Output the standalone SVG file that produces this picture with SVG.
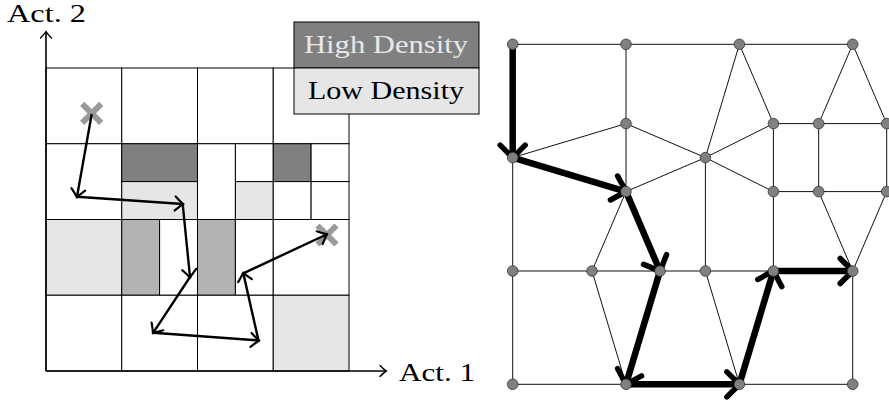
<svg xmlns="http://www.w3.org/2000/svg" width="889" height="405" viewBox="0 0 889 405">
<style>
.c{stroke:#000;stroke-width:1}
.w{fill:#fff}.d{fill:#808080}.l{fill:#e6e6e6}.m{fill:#b3b3b3}
.t{font-family:"Liberation Serif","Times New Roman",serif;font-size:26px}
.e{fill:none;stroke:#111;stroke-width:1}
.th{fill:none;stroke:#000;stroke-width:6.5;marker-end:url(#big)}
.pa{fill:none;stroke:#000;stroke-width:2.4;marker-end:url(#small)}
.ax{fill:none;stroke:#000;stroke-width:1.6;marker-end:url(#axm)}
.n{fill:#808080;stroke:#333;stroke-width:0.8}
.x{stroke:#9a9a9a;stroke-width:6}
</style>
<defs>
<marker id="big" markerUnits="userSpaceOnUse" orient="auto" overflow="visible" markerWidth="1" markerHeight="1" refX="0" refY="0">
<path d="M -12.5 -12.5 Q -2.5 -2.2 1.5 0 Q -2.5 2.2 -12.5 12.5" fill="none" stroke="#000" stroke-width="5.5" stroke-linecap="round" stroke-linejoin="round"/>
</marker>
<marker id="small" markerUnits="userSpaceOnUse" orient="auto" overflow="visible" markerWidth="1" markerHeight="1" refX="0" refY="0">
<path d="M -7.5 -7 Q -1.5 -1.3 0.8 0 Q -1.5 1.3 -7.5 7" fill="none" stroke="#000" stroke-width="2.2" stroke-linecap="round" stroke-linejoin="round"/>
</marker>
<marker id="axm" markerUnits="userSpaceOnUse" orient="auto" overflow="visible" markerWidth="1" markerHeight="1" refX="0" refY="0">
<path d="M -6 -5.5 Q -1.5 -1 0.5 0 Q -1.5 1 -6 5.5" fill="none" stroke="#000" stroke-width="1.4" stroke-linecap="round" stroke-linejoin="round"/>
</marker>
</defs>

<g id="grid">
<rect class="c w" x="46" y="68" width="75.75" height="75.75"/>
<rect class="c w" x="121.75" y="68" width="75.75" height="75.75"/>
<rect class="c w" x="197.5" y="68" width="75.75" height="75.75"/>
<rect class="c w" x="273.25" y="68" width="75.75" height="75.75"/>

<rect class="c w" x="46" y="143.75" width="75.75" height="75.75"/>
<rect class="c d" x="121.75" y="143.75" width="75.75" height="37.85"/>
<rect class="c l" x="121.75" y="181.6" width="75.75" height="37.9"/>
<rect class="c w" x="197.5" y="143.75" width="37.9" height="75.75"/>
<rect class="c w" x="235.4" y="143.75" width="37.85" height="37.85"/>
<rect class="c l" x="235.4" y="181.6" width="37.85" height="37.9"/>
<rect class="c d" x="273.25" y="143.75" width="37.85" height="37.85"/>
<rect class="c w" x="311.1" y="143.75" width="37.9" height="37.85"/>
<rect class="c w" x="273.25" y="181.6" width="37.85" height="37.9"/>
<rect class="c w" x="311.1" y="181.6" width="37.9" height="37.9"/>

<rect class="c l" x="46" y="219.5" width="75.75" height="75.75"/>
<rect class="c m" x="121.75" y="219.5" width="37.85" height="75.75"/>
<rect class="c w" x="159.6" y="219.5" width="37.9" height="75.75"/>
<rect class="c m" x="197.5" y="219.5" width="37.9" height="75.75"/>
<rect class="c w" x="235.4" y="219.5" width="37.85" height="75.75"/>
<rect class="c w" x="273.25" y="219.5" width="75.75" height="75.75"/>

<rect class="c w" x="46" y="295.25" width="75.75" height="75.75"/>
<rect class="c w" x="121.75" y="295.25" width="75.75" height="75.75"/>
<rect class="c w" x="197.5" y="295.25" width="75.75" height="75.75"/>
<rect class="c l" x="273.25" y="295.25" width="75.75" height="75.75"/>
</g>

<g id="axes">
<path class="ax" d="M46 371 V32"/>
<path class="ax" d="M46 371 H386"/>
<text class="t" x="7" y="22" textLength="79" lengthAdjust="spacingAndGlyphs">Act. 2</text>
<text class="t" x="399" y="381" textLength="76" lengthAdjust="spacingAndGlyphs">Act. 1</text>
</g>

<g id="legend">
<rect class="c d" x="294" y="22" width="185" height="46"/>
<rect class="c l" x="294" y="68" width="185" height="46"/>
<text class="t" x="304" y="52.7" fill="#e8e8e8" textLength="164" lengthAdjust="spacingAndGlyphs">High Density</text>
<text class="t" x="308" y="99" fill="#000" textLength="156" lengthAdjust="spacingAndGlyphs">Low Density</text>
</g>

<g id="marks">
<path class="x" d="M82.2 103.8 L101.2 122.8 M101.2 103.8 L82.2 122.8"/>
<path class="x" d="M317.5 225.5 L336.5 244.5 M336.5 225.5 L317.5 244.5"/>
</g>

<g id="trajectory">
<path class="pa" d="M91.7 114 L77 196.7"/>
<path class="pa" d="M77 196.7 L182.7 204"/>
<path class="pa" d="M182.7 204 L190 277"/>
<path class="pa" d="M190 277 L153.3 332.7"/>
<path class="pa" d="M153.3 332.7 L258.5 340.5"/>
<path class="pa" d="M258.5 340.5 L243.3 273.3"/>
<path class="pa" d="M243.3 273.3 L326.5 234.5"/>
</g>

<g id="edges">
<path class="e" d="M512.7 44.3 H852.7"/>
<path class="e" d="M626 44.3 V191.6"/>
<path class="e" d="M512.7 157.6 L626 123.6"/>
<path class="e" d="M626 123.6 L705.4 157.6 L626 191.6"/>
<path class="e" d="M705.4 157.6 L739.4 44.3 L773.4 123.6"/>
<path class="e" d="M705.4 157.6 L773.4 123.6"/>
<path class="e" d="M705.4 157.6 L773.4 191.6"/>
<path class="e" d="M773.4 123.6 H886.7"/>
<path class="e" d="M773.4 191.6 H886.7"/>
<path class="e" d="M773.4 123.6 V191.6 M818.7 123.6 V191.6 M886.7 123.6 V191.6"/>
<path class="e" d="M818.7 123.6 L852.7 44.3 L886.7 123.6"/>
<path class="e" d="M818.7 191.6 L852.7 271 L886.7 191.6"/>
<path class="e" d="M512.7 157.6 V384.3"/>
<path class="e" d="M512.7 271 H773.4"/>
<path class="e" d="M626 191.6 L592 271 L626 384.3"/>
<path class="e" d="M705.4 157.6 V271 L739.4 384.3"/>
<path class="e" d="M773.4 191.6 V271"/>
<path class="e" d="M852.7 271 V384.3"/>
<path class="e" d="M512.7 384.3 H626 M739.4 384.3 H852.7"/>
</g>

<g id="path">
<path class="th" d="M512.7 44.3 L512.7 157.6"/>
<path class="th" d="M512.7 157.6 L626 191.6"/>
<path class="th" d="M626 191.6 L660 271"/>
<path class="th" d="M660 271 L626 384.3"/>
<path class="th" d="M626 384.3 L739.4 384.3"/>
<path class="th" d="M739.4 384.3 L773.4 271"/>
<path class="th" d="M773.4 271 L852.7 271"/>
</g>

<g id="nodes">
<circle id="nA" class="n" cx="512.7" cy="44.3" r="5.3"/>
<circle id="nB" class="n" cx="626" cy="44.3" r="5.3"/>
<circle id="nC" class="n" cx="739.4" cy="44.3" r="5.3"/>
<circle id="nD" class="n" cx="852.7" cy="44.3" r="5.3"/>
<circle id="nE" class="n" cx="626" cy="123.6" r="5.3"/>
<circle id="nF" class="n" cx="773.4" cy="123.6" r="5.3"/>
<circle id="nG" class="n" cx="818.7" cy="123.6" r="5.3"/>
<circle id="nH" class="n" cx="886.7" cy="123.6" r="5.3"/>
<circle id="nI" class="n" cx="512.7" cy="157.6" r="5.3"/>
<circle id="nJ" class="n" cx="705.4" cy="157.6" r="5.3"/>
<circle id="nK" class="n" cx="626" cy="191.6" r="5.3"/>
<circle id="nL" class="n" cx="773.4" cy="191.6" r="5.3"/>
<circle id="nM" class="n" cx="818.7" cy="191.6" r="5.3"/>
<circle id="nN" class="n" cx="886.7" cy="191.6" r="5.3"/>
<circle id="nO" class="n" cx="512.7" cy="271" r="5.3"/>
<circle id="nP" class="n" cx="592" cy="271" r="5.3"/>
<circle id="nQ" class="n" cx="660" cy="271" r="5.3"/>
<circle id="nR" class="n" cx="705.4" cy="271" r="5.3"/>
<circle id="nS" class="n" cx="773.4" cy="271" r="5.3"/>
<circle id="nT" class="n" cx="852.7" cy="271" r="5.3"/>
<circle id="nU" class="n" cx="512.7" cy="384.3" r="5.3"/>
<circle id="nV" class="n" cx="626" cy="384.3" r="5.3"/>
<circle id="nW" class="n" cx="739.4" cy="384.3" r="5.3"/>
<circle id="nX" class="n" cx="852.7" cy="384.3" r="5.3"/>
</g>
</svg>
